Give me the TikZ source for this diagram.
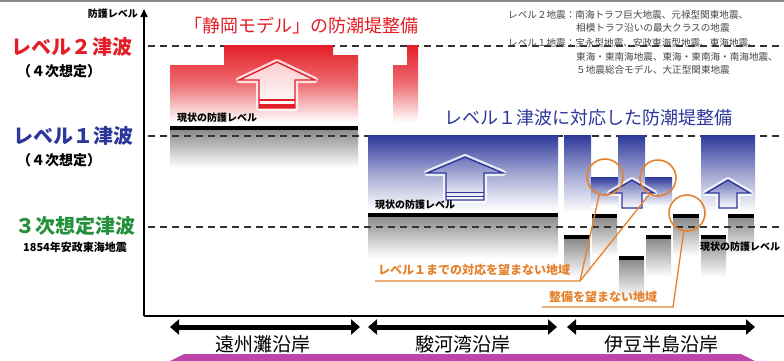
\documentclass[tikz,border=0pt]{standalone}
\usepackage{fontspec}
\newfontfamily\jp{Noto Sans CJK JP}
\usetikzlibrary{arrows.meta}
\definecolor{redT}{RGB}{228,30,38}
\definecolor{blueT}{RGB}{45,55,155}
\definecolor{greenT}{RGB}{35,145,60}
\definecolor{orangeT}{RGB}{228,130,45}
\definecolor{magT}{RGB}{190,70,170}
\definecolor{legT}{RGB}{70,70,70}
\newcommand\uparr[8]{%
 \draw[white, line width=6pt, opacity=.8, line join=round] (#1,#2) -- ({#1+#4},#3) -- ({#1+#5},#3) -- ({#1+#5},#6) -- ({#1-#5},#6) -- ({#1-#5},#3) -- ({#1-#4},#3) -- cycle;
 \shade[top color=#8, bottom color=white] (#1,#2) -- ({#1+#4},#3) -- ({#1+#5},#3) -- ({#1+#5},#6) -- ({#1-#5},#6) -- ({#1-#5},#3) -- ({#1-#4},#3) -- cycle;
 \draw[#7, line width=1.4pt] (#1,#2) -- ({#1+#4},#3) -- ({#1+#5},#3) -- ({#1+#5},#6) -- ({#1-#5},#6) -- ({#1-#5},#3) -- ({#1-#4},#3) -- cycle;
}
\begin{document}
\begin{tikzpicture}[x=1pt,y=-1pt,
  dashln/.style={dash pattern=on 7pt off 5pt, line width=1.3pt, black!80},
  grayfade/.style={top color=black!45, bottom color=white},
  redfade/.style={top color=redT, bottom color=white, middle color=redT!65},
  bluefade/.style={top color=blueT, bottom color=white, middle color=blueT!45},
  ring/.style={circle, draw=orangeT, line width=1.6pt, minimum size=36pt, inner sep=0pt},
  orln/.style={draw=orangeT, line width=1.3pt},
  orlbl/.style={font=\jp\bfseries\fontsize{12}{14}\selectfont, text=orangeT, inner sep=0pt},
  biglbl/.style={font=\jp\bfseries\fontsize{20}{24}\selectfont, inner sep=0pt},
  sublbl/.style={font=\jp\bfseries\fontsize{14}{16}\selectfont, inner sep=0pt},
  small/.style={font=\jp\bfseries\fontsize{10}{12}\selectfont, inner sep=0pt},
  leg/.style={font=\jp\fontsize{9.6}{11}\selectfont, text=legT, inner sep=0pt, anchor=west},
  title/.style={font=\jp\fontsize{18}{22}\selectfont, inner sep=0pt},
  coast/.style={font=\jp\fontsize{19}{22}\selectfont, inner sep=0pt},
  regarr/.style={line width=5pt, {Triangle[length=9pt,width=15pt]}-{Triangle[length=9pt,width=15pt]}}]
\useasboundingbox (0,0) rectangle (784,360);
\fill[white] (0,0) rectangle (784,360);
\fill[black!45] (0,0) rectangle (784,1.6);

% gray fades below current levels
\shade[grayfade] (170,130) rectangle (358,168);
\shade[grayfade] (368,217) rectangle (558,258);
\foreach \xa/\xb/\yy in {563/591/237, 591/618/216, 618/645/258, 645/672/237, 672/700/216, 700/727/237, 727/755/216} {
  \shade[grayfade] (\xa+1,\yy+2) rectangle (\xb-1,\yy+40);
}

% dashed levels
\coordinate (d2a) at (148,46); \coordinate (d2b) at (780,46);
\coordinate (d1a) at (148,136); \coordinate (d1b) at (784,136);
\coordinate (d3a) at (148,227); \coordinate (d3b) at (784,227);
\draw[dashln] (d2a) -- (d2b);
\draw[dashln] (d1a) -- (d1b);
\draw[dashln] (d3a) -- (d3b);

% red blocks
\shade[redfade] (170,122) -- (170,65) -- (224,65) -- (224,45) -- (333,45) -- (333,55) -- (358,55) -- (358,122) -- cycle;
\shade[redfade] (393,122) -- (393,65) -- (407,65) -- (407,45) -- (418,45) -- (418,122) -- cycle;

% blue blocks
\shade[bluefade] (368,135) rectangle (558,210);
\shade[bluefade] (564,135) rectangle (591,212);
\shade[bluefade] (591,177) rectangle (618,206);
\shade[bluefade] (645,177) rectangle (672,206);
\shade[bluefade] (618,135) rectangle (645,212);
\shade[bluefade] (701,135) rectangle (755,212);

% current level bars
\fill (170,126) rectangle (358,130);
\fill (368,213) rectangle (558,217);
\foreach \xa/\xb/\yy in {563/591/237, 591/618/216, 618/645/258, 645/672/237, 672/700/216, 700/727/237, 727/755/216} {
  \fill (\xa+1,\yy-2) rectangle (\xb-1,\yy+2);
}

% arrows
\uparr{277}{62}{80}{38}{18}{108}{redT}{redT!22}
\fill[redT] (259,104) rectangle (295,108);
\draw[redT, line width=1.2pt] (259,100) -- (295,100);
\uparr{465}{157}{173}{38}{19}{200}{blueT}{blueT!70}
\draw[blueT, line width=1.3pt] (446,192.5) -- (484,192.5);
\draw[blueT, line width=1.3pt] (446,196.5) -- (484,196.5);
\uparr{632}{180}{193}{22}{10}{208}{blueT}{blueT!70}
\uparr{728}{180}{193}{22}{9}{208}{blueT}{blueT!70}

% axes
\coordinate (o) at (144,316);
\coordinate (ytop) at (144,9);
\coordinate (xend) at (784,316);
\draw[line width=1.6pt, -{Triangle[length=8pt,width=7pt]}] (o) -- (ytop);
\draw[line width=1.6pt] (o) -- (xend);
\node[small, anchor=east] (ylab) at (138,14) {防護レベル};

% left labels
\node[biglbl, text=redT] (l2) at (72,47) {レベル２津波};
\node[sublbl] (l2s) at (59,71) {（４次想定）};
\node[biglbl, text=blueT] (l1) at (73,136) {レベル１津波};
\node[sublbl] (l1s) at (59,160) {（４次想定）};
\node[biglbl, text=greenT] (l3) at (75,226) {３次想定津波};
\node[font=\jp\bfseries\fontsize{11}{13}\selectfont, inner sep=0pt] (l3s) at (75,247) {1854年安政東海地震};

% titles
\node[title, text=redT] (t1) at (301,26) {「静岡モデル」の防潮堤整備};
\node[title, text=blueT] (t2) at (588,118) {レベル１津波に対応した防潮堤整備};

% legend
\node[leg] (g1) at (508,15) {レベル２地震：南海トラフ巨大地震、元禄型関東地震、};
\node[leg] (g2) at (576,28) {相模トラフ沿いの最大クラスの地震};
\node[leg] (g3) at (508,43) {レベル１地震：宝永型地震、安政東海型地震、東海地震、};
\node[leg] (g4) at (576,57) {東海・東南海地震、東海・東南海・南海地震、};
\node[leg] (g5) at (576,70) {５地震総合モデル、大正型関東地震};

% current level labels
\node[small, anchor=west] (c0a) at (177,118) {現状の防護レベル};
\node[small, anchor=west] (c0b) at (375,205) {現状の防護レベル};
\node[small, anchor=west] (c0c) at (700,247) {現状の防護レベル};

% orange call-outs
\node[ring] (c1) at (605,177) {};
\node[ring] (c2) at (658,178) {};
\node[ring] (c3) at (687,213) {};
\node[orlbl] (o1) at (474,270) {レベル１までの対応を望まない地域};
\coordinate (u1a) at (375,281); \coordinate (u1b) at (580,281);
\draw[orln] (u1a) -- (u1b) -- (c1.-108);
\draw[orln] (u1b) -- (c2.-118);
\node[orlbl] (o2) at (603,297) {整備を望まない地域};
\coordinate (u2a) at (542,307); \coordinate (u2b) at (673,307);
\draw[orln] (u2a) -- (u2b) -- (c3.-100);

% coastal regions
\coordinate (ea) at (170,327); \coordinate (eb) at (360,327);
\coordinate (sa) at (368,327); \coordinate (sb) at (557,327);
\coordinate (ia) at (567,327); \coordinate (ib) at (755,327);
\draw[regarr] (ea) -- (eb);
\draw[regarr] (sa) -- (sb);
\draw[regarr] (ia) -- (ib);
\node[coast] (r1) at (263,344) {遠州灘沿岸};
\node[coast] (r2) at (463,344) {駿河湾沿岸};
\node[coast] (r3) at (661,344) {伊豆半島沿岸};
\fill[magT] (170,361) -- (184,354) -- (741,354) -- (755,361) -- (741,370) -- (184,370) -- cycle;
\end{tikzpicture}
\end{document}
